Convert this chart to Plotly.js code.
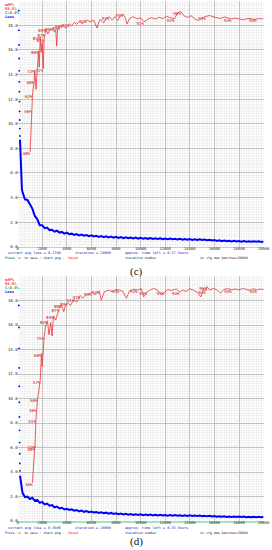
<!DOCTYPE html>
<html><head><meta charset="utf-8">
<script src="https://cdn.plot.ly/plotly-3.0.1.min.js"></script>
<style>html,body{margin:0;padding:0;background:#fff}#chart{width:272px;height:550px}</style>
</head><body><div id="chart"></div>
<script>
// ---------- tick labels ----------
const xTickVals = [0,2000,4000,6000,8000,10000,12000,14000,16000,18000,20000];
const xTickText = ['0','2000','4000','6000','8000','10000','12000','14000','16000','18000','20000'];
const yTickVals = [0,2,4,6,8,10,12,14,16,18];
const yTickText = ['0.0','2.0','4.0','6.0','8.0','10.0','12.0','14.0','16.0','18.0'];

// ---------- first iterations: loss drawn as separate dots ----------
const lossDotIter = [100,108,116,124,132,140,148,156,164,172,180,188];
const lossDotC = [19.2,17.6,16.4,15.3,14.3,13.4,12.6,11.8,11.0,10.3,9.6,9.0];
const lossDotD = [17.6,15.8,14.1,12.5,11.0,9.7,8.5,7.4,6.4,5.5,4.7,4.1];

// ---------- loss series (shared iterations) ----------
const lossIter = [196,250,300,350,
 400,600,800,1000,1200,1400,1600,1800,2000,2200,
 2400,2600,2800,3000,3200,3400,3600,3800,4000,4200,
 4400,4600,4800,5000,5200,5400,5600,5800,6000,6200,
 6400,6600,6800,7000,7200,7400,7600,7800,8000,8200,
 8400,8600,8800,9000,9200,9400,9600,9800,10000,10200,
 10400,10600,10800,11000,11200,11400,11600,11800,12000,12200,
 12400,12600,12800,13000,13200,13400,13600,13800,14000,14200,
 14400,14600,14800,15000,15200,15400,15600,15800,16000,16200,
 16400,16600,16800,17000,17200,17400,17600,17800,18000,18200,
 18400,18600,18800,19000,19200,19400,19600,19800,20000];
const lossC = [8.7,6.6,5.3,4.7,
 4.45,3.85,3.8,3.4,3.1,2.5,2.25,1.75,1.75,1.5,
 1.55,1.35,1.38,1.22,1.3,1.15,1.2,1.06,1.14,1.02,
 1.06,0.96,1.03,0.92,0.98,0.89,0.95,0.86,0.92,0.84,
 0.89,0.8,0.87,0.78,0.85,0.76,0.82,0.74,0.8,0.72,
 0.78,0.7,0.77,0.69,0.75,0.68,0.74,0.66,0.72,0.65,
 0.71,0.64,0.7,0.63,0.69,0.62,0.68,0.61,0.67,0.6,
 0.66,0.6,0.65,0.58,0.64,0.57,0.63,0.56,0.62,0.55,
 0.61,0.55,0.6,0.54,0.59,0.53,0.57,0.5,0.55,0.47,
 0.52,0.45,0.5,0.44,0.49,0.43,0.48,0.42,0.47,0.41,
 0.46,0.41,0.45,0.4,0.45,0.4,0.44,0.39,0.43];
const lossD = [3.7,3.3,2.9,2.55,
 2.3,1.95,2.0,1.8,1.9,1.65,1.72,1.48,1.55,1.35,
 1.42,1.25,1.3,1.12,1.18,1.02,1.08,0.95,1.0,0.9,
 0.95,0.84,0.9,0.79,0.85,0.75,0.81,0.72,0.77,0.69,
 0.74,0.66,0.71,0.63,0.68,0.6,0.66,0.58,0.63,0.56,
 0.61,0.54,0.59,0.52,0.57,0.5,0.55,0.49,0.54,0.48,
 0.53,0.47,0.52,0.46,0.51,0.45,0.5,0.45,0.49,0.44,
 0.49,0.43,0.48,0.43,0.47,0.42,0.47,0.41,0.46,0.41,
 0.45,0.4,0.44,0.39,0.43,0.38,0.42,0.37,0.41,0.35,
 0.39,0.34,0.38,0.33,0.37,0.33,0.37,0.32,0.36,0.32,
 0.36,0.31,0.35,0.31,0.35,0.3,0.34,0.3,0.34];

// ---------- mAP series (c) ----------
const mapIterC = [1020,1160,1210,1350,1400,1500,1600,1700,1760,1840,1920,2000,2080,2160,2240,2300,2450,2600,2840,3000,
 3100,3180,3260,3450,3650,3900,4200,4400,4600,4800,5000,5300,5630,5900,6200,6450,6700,7000,7200,7450,
 7700,7900,8150,8350,8570,8750,8900,9100,9400,9700,10000,10280,10600,10900,11200,11500,11800,12100,12400,12750,
 13000,13280,13550,13800,14100,14400,14700,15000,15310,15600,15900,16200,16500,16800,17100,17370,17700,18000,18300,18600,
 18900,19150,19420,19700,20000];
const mapValC = [38.4,55.6,61.7,67.6,71.8,64,74,79.6,73,85.3,79,83,72.3,84.4,86.6,88.6,86.5,88,88.8,87.3,
 88.2,81.5,88.4,89.4,90.2,88.8,90.6,89.8,91.2,90.4,91.5,90.7,92.2,91.4,92.1,88.9,92.4,91,92.8,93.4,
 92.2,93.5,92,93.7,94.6,93.2,90.5,92.8,93.5,92.6,93,91.4,92.5,93.1,92.5,93.3,92.7,93.6,93,92.6,
 95,95.6,93.8,93.2,93.9,92.6,92,93,93.6,94,93.5,93.1,92.7,93.4,93,92.6,92.9,92.6,92.3,92.6,
 92.8,92.4,92.6,92.7,92.6];
const mapLblC = ['38%','56%','62%','68%','72%','','','80%','','85%','','','72%','84%','87%','89%','','','89%','',
 '','','','89%','90%','','91%','','','','','','92%','','','','','','','93%',
 '','','','','95%','','','','','','','91%','','','','','','','','93%',
 '','96%','','','','','','','94%','','','','','','','93%','','','','',
 '','','93%','',''];

// ---------- mAP series (d) ----------
const mapIterD = [1210,1400,1410,1490,1540,1620,1840,1940,2000,2160,2300,2430,2550,2700,2800,2920,3100,3250,3380,3570,
 3750,3900,4060,4300,4600,4800,5090,5300,5600,6010,6300,6640,6800,7050,7400,7700,8000,8260,8550,8850,
 9100,9450,9750,10050,10250,10510,10800,11100,11400,11700,11920,12200,12500,12900,13160,13450,13700,14000,14300,14600,
 14900,15100,15310,15390,15600,15900,16200,16500,16800,17100,17420,17700,18000,18300,18600,18900,19200,19450,19700,20000];
const mapValD = [15.6,30.6,30.0,41.3,45.9,49.8,57.2,68.4,63,75.2,80,81.7,76,81,75.5,83.7,82,85,86.6,88.2,
 85.4,88,89.1,88,90.5,89.3,92.1,91,92.5,93.2,92.4,93.9,90.2,93.5,94.2,93.6,94.5,94.3,93.7,90.9,
 94,94.6,94.3,94.8,91.5,93.4,94.4,94.9,94.2,92.3,93.4,94.5,94.1,94.7,93.5,94.3,93.6,94.8,94.2,93.3,
 91.5,94.5,94.0,95.7,94.3,94.9,94.4,93,94.6,94.8,94.4,94.7,94.3,94.9,94.5,94.2,94.8,94.3,94.7,94.5];
const mapLblD = ['16%','31%','30%','41%','46%','50%','57%','68%','','75%','','82%','','','','84%','','','87%','88%',
 '','','89%','','91%','','92%','','','93%','','94%','','','','','','94%','','',
 '','','94%','','','93%','','','','','93%','','','','93%','','','','','',
 '','','94%','96%','','','','','','','94%','','','','','','','94%','',''];

// ---------- texts ----------
const legendC = ['mAP%','93.5%','C:0.0%','Loss'];
const legendD = ['mAP%','93.9%','C:0.0%','Loss'];
const statusC = ['current avg loss = 0.3700','iteration = 20000','approx. time left = 0.37 hours'];
const statusD = ['current avg loss = 0.3600','iteration = 20000','approx. time left = 0.35 hours'];
const footer = ["Press 's' to save : chart.png -",'Saved','iteration number','in cfg max_batches=20000'];
const captions = ['(c)','(d)'];

// ---------- styling ----------
const W = 272, H = 550;
const px = v => v / W, py = v => 1 - v / H;
const RED = 'rgb(235,50,50)', BLUE = 'rgb(0,0,255)', GREEN = 'rgb(30,165,100)';
const mono = 'DejaVu Sans Mono';

function xAx(anchor){
  return {domain:[px(17.6), px(263.6)], range:[0,20000], anchor:anchor,
    tickmode:'array', tickvals:xTickVals, ticktext:xTickText,
    tickfont:{family:mono, size:3.8, color:'#222'}, ticks:'', ticklabelstandoff:-3,
    showgrid:true, gridcolor:'#b5b5b5', gridwidth:0.8,
    minor:{dtick:200, tick0:0, showgrid:true, gridcolor:'#ebebeb', gridwidth:0.6},
    zeroline:false, showline:true, linecolor:'#a6e2c2', linewidth:1.5, fixedrange:true};
}
function yAx(dom, anchor){
  return {domain:dom, range:[0,20], anchor:anchor,
    tickmode:'array', tickvals:yTickVals, ticktext:yTickText,
    tickfont:{family:mono, size:4, color:'#222'}, ticks:'', ticklabelstandoff:-1,
    showgrid:true, gridcolor:'#b5b5b5', gridwidth:0.8,
    minor:{dtick:0.2, tick0:0, showgrid:true, gridcolor:'#ebebeb', gridwidth:0.6},
    zeroline:false, showline:false, fixedrange:true};
}
function yOver(base){
  return {overlaying:base, range:[0,100], visible:false, showgrid:false, zeroline:false, fixedrange:true};
}

const lblFont = {family:mono, size:4.2, color:'rgb(200,0,0)', shadow:'0 0 1px #fff'};
const dotStyle = {color:BLUE, size:1.8};
const traces = [
  {x:lossDotIter, y:lossDotC, xaxis:'x', yaxis:'y', mode:'markers', marker:dotStyle, cliponaxis:true, hoverinfo:'skip'},
  {x:lossIter, y:lossC, xaxis:'x', yaxis:'y', mode:'lines', line:{color:BLUE, width:2}, hoverinfo:'skip'},
  {x:mapIterC, y:mapValC, text:mapLblC, xaxis:'x', yaxis:'y2', mode:'lines+text', textposition:'bottom left',
   textfont:lblFont, line:{color:RED, width:0.8}, cliponaxis:false, hoverinfo:'skip'},
  {x:lossDotIter, y:lossDotD, xaxis:'x2', yaxis:'y3', mode:'markers', marker:dotStyle, cliponaxis:true, hoverinfo:'skip'},
  {x:lossIter, y:lossD, xaxis:'x2', yaxis:'y3', mode:'lines', line:{color:BLUE, width:2}, hoverinfo:'skip'},
  {x:mapIterD, y:mapValD, text:mapLblD, xaxis:'x2', yaxis:'y4', mode:'lines+text', textposition:'bottom left',
   textfont:lblFont, line:{color:RED, width:0.8}, cliponaxis:false, hoverinfo:'skip'}
];

const ann = [];
function txt(t, x, y, color, size, family, anchor){
  ann.push({text:t, xref:'paper', yref:'paper', x:px(x), y:py(y), xanchor:anchor||'left', yanchor:'middle',
    showarrow:false, font:{family:family||mono, size:size, color:color}});
}
function block(off, legend, status){
  const lc = [RED, RED, GREEN, BLUE];
  const ly = [4, 8.3, 12.5, 16.2];
  legend.forEach((t,i)=>txt('<b>'+t+'</b>', 2.5, off+ly[i], lc[i], 3.8));
  txt(status[0], 6, off+253.3, 'rgb(30,30,200)', 3.5);
  txt(status[1], 73, off+253.3, 'rgb(30,30,200)', 3.5);
  txt(status[2], 123, off+253.3, 'rgb(30,30,200)', 3.5);
  txt(footer[0], 3, off+258.3, '#111', 3.2);
  txt(footer[1], 66, off+258.3, 'rgb(230,0,0)', 3.3);
  txt(footer[2], 123, off+258.3, '#111', 3.3);
  txt(footer[3], 198, off+258.3, '#111', 3.3);
}
block(0, legendC, statusC);
block(275, legendD, statusD);
txt(captions[0], 136, 271, '#111', 11, 'Liberation Serif', 'center');
txt(captions[1], 136, 541, '#111', 11, 'Liberation Serif', 'center');

const layout = {
  width:W, height:H, margin:{l:0,r:0,t:0,b:0}, paper_bgcolor:'#fff', plot_bgcolor:'#fff',
  showlegend:false,
  xaxis:xAx('y'), yaxis:yAx([py(246.7), py(0.7)], 'x'), yaxis2:Object.assign(yOver('y'),{anchor:'x'}),
  xaxis2:xAx('y3'), yaxis3:yAx([py(521), py(276)], 'x2'), yaxis4:Object.assign(yOver('y3'),{anchor:'x2'}),
  annotations:ann
};
Plotly.newPlot('chart', traces, layout, {staticPlot:true, displayModeBar:false});
</script></body></html>
